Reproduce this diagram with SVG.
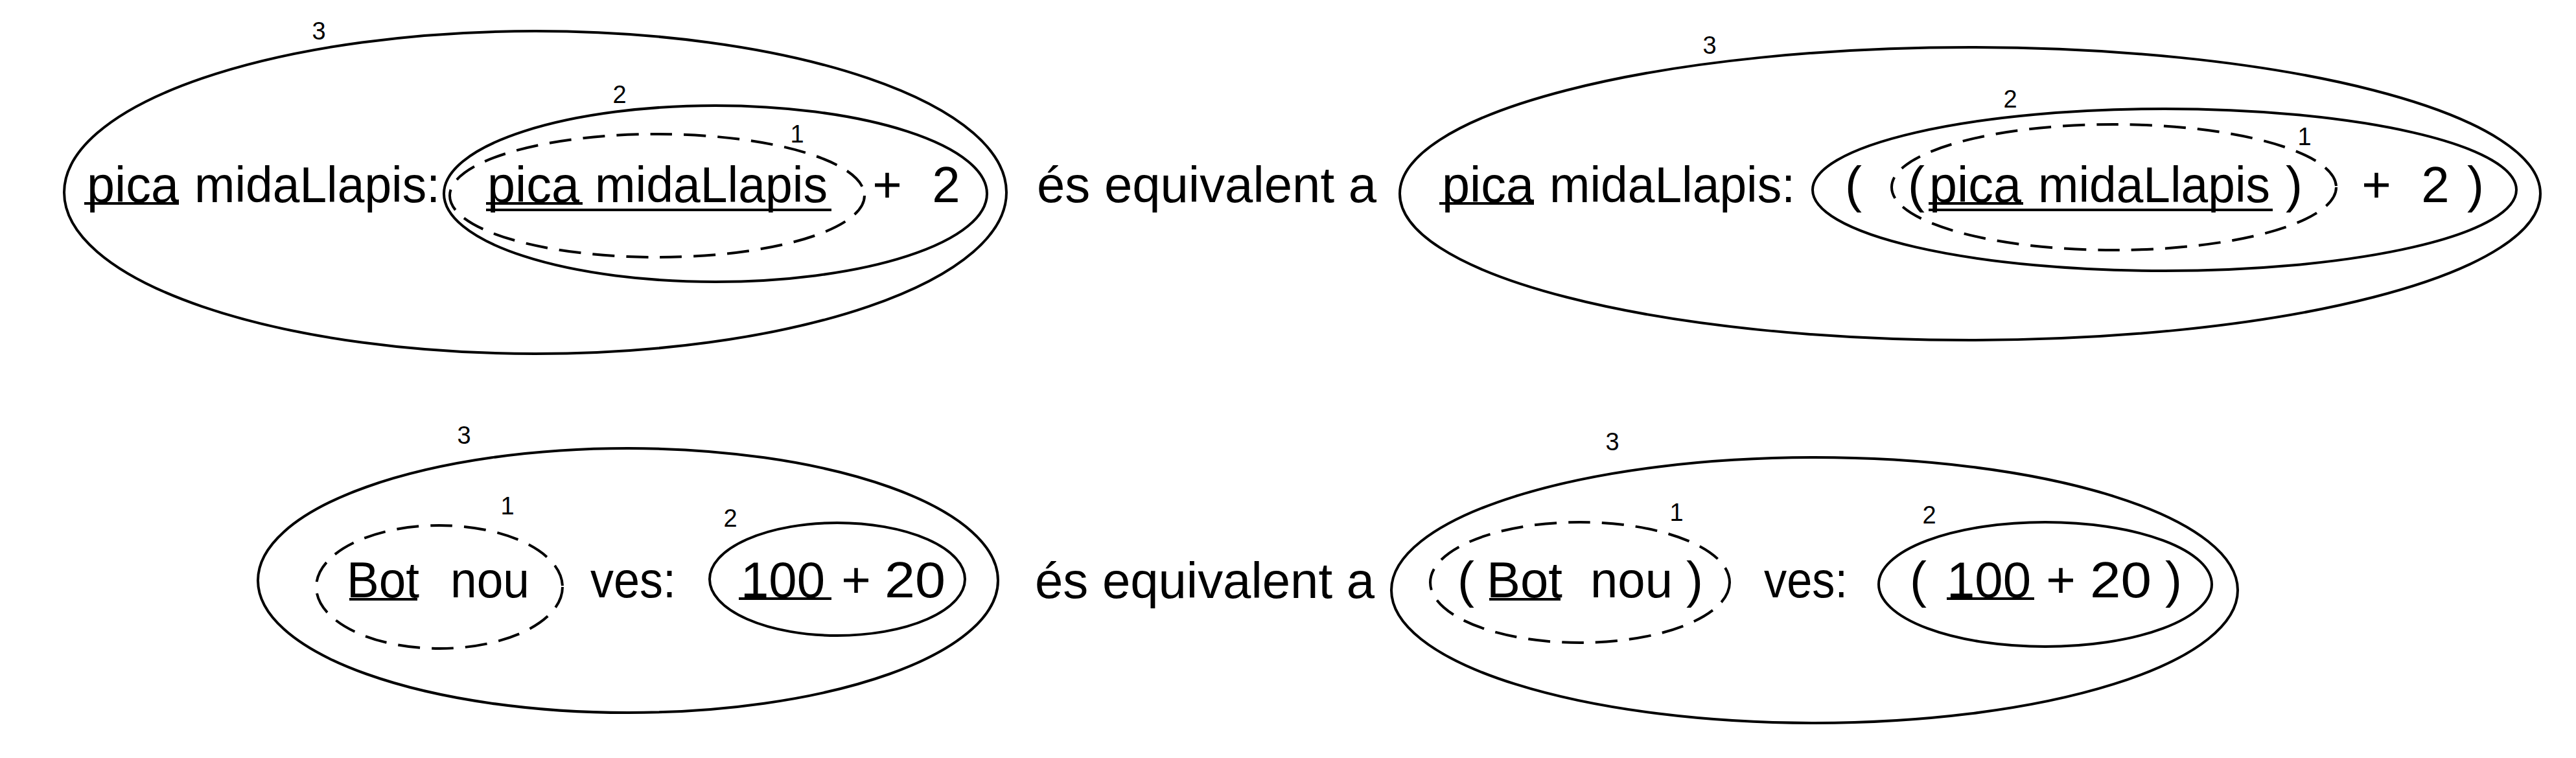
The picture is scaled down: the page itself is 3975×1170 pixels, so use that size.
<svg xmlns="http://www.w3.org/2000/svg" width="3975" height="1170" viewBox="0 0 3975 1170">
<style>
  .bg { fill: #ffffff; }
  .ell { fill: none; stroke: #000; stroke-width: 4; }
  .dash { fill: none; stroke: #000; stroke-width: 4; stroke-dasharray: 34 18; }
  .t { font-family: "Liberation Sans", Arial, sans-serif; font-size: 78px; fill: #000; }
  .c { text-anchor: middle; }
  .lbl { font-family: "Liberation Sans", Arial, sans-serif; font-size: 38px; fill: #000; text-anchor: middle; }
  .ul { fill: #000; }
</style>
<rect class="bg" x="0" y="0" width="3975" height="1170"/>

<!-- Top-left figure -->
<g id="tl-node3">
  <ellipse class="ell" cx="826" cy="297" rx="727" ry="249"/>
  <text class="lbl" x="492" y="61">3</text>
</g>
<g id="tl-node2">
  <ellipse class="ell" cx="1104" cy="299" rx="419" ry="136"/>
  <text class="lbl" x="956" y="159">2</text>
</g>
<g id="tl-node1">
  <ellipse class="dash" cx="1014" cy="302" rx="320" ry="95"/>
  <text class="lbl" x="1230" y="220">1</text>
</g>
<g id="tl-text">
  <text class="t" x="134" y="312" textLength="142" lengthAdjust="spacingAndGlyphs">pica</text>
  <rect class="ul" x="130" y="312" width="146" height="4"/>
  <text class="t" x="300" y="312" textLength="379" lengthAdjust="spacingAndGlyphs">midaLlapis:</text>
  <text class="t" x="752" y="312" textLength="142" lengthAdjust="spacingAndGlyphs">pica</text>
  <rect class="ul" x="750" y="312" width="149" height="4"/>
  <text class="t" x="918" y="312" textLength="359" lengthAdjust="spacingAndGlyphs">midaLlapis</text>
  <rect class="ul" x="750" y="322" width="533" height="4"/>
  <text class="t c" x="1369" y="312">+</text>
  <text class="t c" x="1460" y="312">2</text>
</g>

<g id="mid-top">
  <text class="t" x="1600" y="312" textLength="524" lengthAdjust="spacingAndGlyphs">és equivalent a</text>
</g>

<!-- Top-right figure -->
<g id="tr-node3">
  <ellipse class="ell" cx="3040" cy="299" rx="880" ry="226"/>
  <text class="lbl" x="2638" y="83">3</text>
</g>
<g id="tr-node2">
  <ellipse class="ell" cx="3340" cy="293" rx="543" ry="125"/>
  <text class="lbl" x="3102" y="166">2</text>
</g>
<g id="tr-node1">
  <ellipse class="dash" cx="3262" cy="289" rx="343" ry="97"/>
  <text class="lbl" x="3556" y="224">1</text>
</g>
<g id="tr-text">
  <text class="t" x="2225" y="312" textLength="142" lengthAdjust="spacingAndGlyphs">pica</text>
  <rect class="ul" x="2221" y="312" width="146" height="4"/>
  <text class="t" x="2391" y="312" textLength="379" lengthAdjust="spacingAndGlyphs">midaLlapis:</text>
  <text class="t c" x="2860" y="312">(</text>
  <text class="t c" x="2957" y="312">(</text>
  <text class="t" x="2977" y="312" textLength="142" lengthAdjust="spacingAndGlyphs">pica</text>
  <rect class="ul" x="2976" y="312" width="146" height="4"/>
  <text class="t" x="3145" y="312" textLength="358" lengthAdjust="spacingAndGlyphs">midaLlapis</text>
  <rect class="ul" x="2976" y="322" width="531" height="4"/>
  <text class="t c" x="3540" y="312">)</text>
  <text class="t c" x="3667" y="312">+</text>
  <text class="t c" x="3758" y="312">2</text>
  <text class="t c" x="3820" y="312">)</text>
</g>

<!-- Bottom-left figure -->
<g id="bl-node3">
  <ellipse class="ell" cx="969" cy="896" rx="571" ry="204"/>
  <text class="lbl" x="716" y="685">3</text>
</g>
<g id="bl-node1">
  <ellipse class="dash" cx="678" cy="906" rx="190" ry="95"/>
  <text class="lbl" x="783" y="794">1</text>
</g>
<g id="bl-node2">
  <ellipse class="ell" cx="1292" cy="894" rx="197" ry="87"/>
  <text class="lbl" x="1127" y="813">2</text>
</g>
<g id="bl-text">
  <text class="t" x="535" y="922" textLength="112" lengthAdjust="spacingAndGlyphs">Bot</text>
  <rect class="ul" x="539" y="923" width="105" height="4"/>
  <text class="t" x="695" y="922" textLength="122" lengthAdjust="spacingAndGlyphs">nou</text>
  <text class="t" x="911" y="922" textLength="132" lengthAdjust="spacingAndGlyphs">ves:</text>
  <text class="t" x="1143" y="922" textLength="130" lengthAdjust="spacingAndGlyphs">100</text>
  <rect class="ul" x="1140" y="922" width="143" height="4"/>
  <text class="t c" x="1321" y="922">+</text>
  <text class="t" x="1365" y="922" textLength="94" lengthAdjust="spacingAndGlyphs">20</text>
</g>

<g id="mid-bottom">
  <text class="t" x="1597" y="923" textLength="524" lengthAdjust="spacingAndGlyphs">és equivalent a</text>
</g>

<!-- Bottom-right figure -->
<g id="br-node3">
  <ellipse class="ell" cx="2800" cy="911" rx="653" ry="205"/>
  <text class="lbl" x="2488" y="695">3</text>
</g>
<g id="br-node1">
  <ellipse class="dash" cx="2438" cy="899" rx="231" ry="93"/>
  <text class="lbl" x="2587" y="804">1</text>
</g>
<g id="br-node2">
  <ellipse class="ell" cx="3156" cy="902" rx="257" ry="96"/>
  <text class="lbl" x="2977" y="808">2</text>
</g>
<g id="br-text">
  <text class="t c" x="2262" y="922">(</text>
  <text class="t" x="2294" y="922" textLength="117" lengthAdjust="spacingAndGlyphs">Bot</text>
  <rect class="ul" x="2298" y="923" width="110" height="4"/>
  <text class="t" x="2454" y="922" textLength="127" lengthAdjust="spacingAndGlyphs">nou</text>
  <text class="t c" x="2615" y="922">)</text>
  <text class="t" x="2722" y="922" textLength="129" lengthAdjust="spacingAndGlyphs">ves:</text>
  <text class="t c" x="2960" y="922">(</text>
  <text class="t" x="3004" y="922" textLength="130" lengthAdjust="spacingAndGlyphs">100</text>
  <rect class="ul" x="3004" y="922" width="135" height="4"/>
  <text class="t c" x="3180" y="922">+</text>
  <text class="t" x="3225" y="922" textLength="95" lengthAdjust="spacingAndGlyphs">20</text>
  <text class="t c" x="3354" y="922">)</text>
</g>
</svg>
